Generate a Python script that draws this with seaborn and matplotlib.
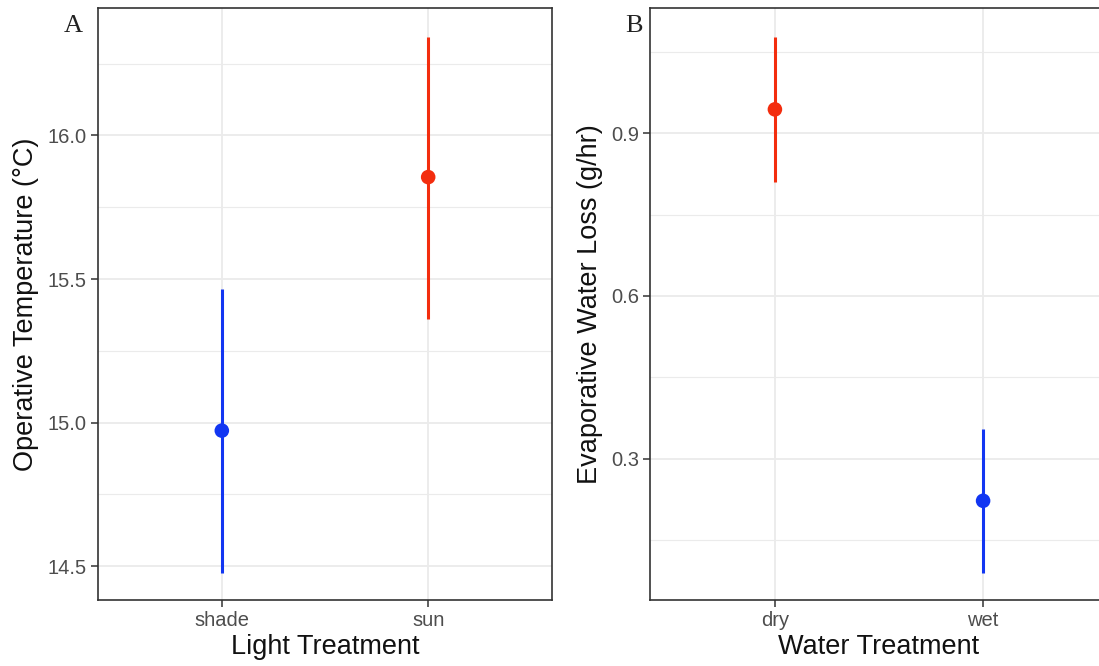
import numpy as np
import pandas as pd
import seaborn as sns
import matplotlib.pyplot as plt

# panel A: light treatment
light_cats = ["shade", "sun"]
light_mean = [14.972, 15.855]
light_lo = [14.476, 15.361]
light_hi = [15.465, 16.344]

# panel B: water treatment
water_cats = ["dry", "wet"]
water_mean = [0.944, 0.222]
water_lo = [0.810, 0.088]
water_hi = [1.077, 0.355]

colors = ["#F32D0E", "#1236F2"]

sns.set_style("whitegrid")
plt.rcParams['font.family'] = ['Liberation Sans', 'DejaVu Sans']

fig = plt.figure(figsize=(10.99, 6.66), dpi=100)
W, H = 1099, 666
axA = fig.add_axes([98 / W, (H - 600) / H, 454 / W, 592 / H])
axB = fig.add_axes([650 / W, (H - 600) / H, 458 / W, 592 / H])


def panel(ax, cats, mean, lo, hi, pal, xlabel, ylabel, major, minor, ylim):
    df = pd.DataFrame({"cat": cats, "mean": mean, "lo": lo, "hi": hi})
    ax.vlines(df["cat"], df["lo"], df["hi"], colors=pal, lw=2.2, zorder=3)
    sns.scatterplot(data=df, x="cat", y="mean", hue="cat", palette=pal,
                    s=110, edgecolor="none", legend=False, ax=ax, zorder=4)
    ax.set_xlim(-0.6, 1.6)
    ax.set_ylim(*ylim)
    ax.set_yticks(major)
    ax.set_yticks(minor, minor=True)
    ax.grid(True, which="major", color="#EBEBEB", lw=1.3)
    ax.grid(True, which="minor", color="#EBEBEB", lw=0.8)
    ax.set_axisbelow(True)
    for s in ax.spines.values():
        s.set_color("#333333")
        s.set_linewidth(1.2)
    ax.tick_params(which="major", length=5, width=1.1, color="#333333",
                   labelsize=14.5, labelcolor="#4D4D4D", pad=3, left=True, bottom=True)
    ax.tick_params(which="minor", length=0)
    ax.set_xlabel(xlabel, fontsize=19.5, color="#111111", labelpad=3)
    ax.set_ylabel(ylabel, fontsize=19.5, color="#111111", labelpad=6)


panel(axA, light_cats, light_mean, light_lo, light_hi, colors[::-1],
      "Light Treatment", "Operative Temperature (°C)",
      [14.5, 15.0, 15.5, 16.0], [14.75, 15.25, 15.75, 16.25], (14.382, 16.444))
axA.set_yticklabels(["14.5", "15.0", "15.5", "16.0"])

panel(axB, water_cats, water_mean, water_lo, water_hi, colors,
      "Water Treatment", "Evaporative Water Loss (g/hr)",
      [0.3, 0.6, 0.9], [0.15, 0.45, 0.75, 1.05], (0.039, 1.131))
axB.set_yticklabels(["0.3", "0.6", "0.9"])

# panel tags
for tag, xpx in [("A", 73), ("B", 634)]:
    fig.text(xpx / W, 1 - 15 / H, tag, ha="center", va="top", fontsize=19,
             family="Liberation Serif", color="#222222")

fig.savefig("out.png", dpi=100)
